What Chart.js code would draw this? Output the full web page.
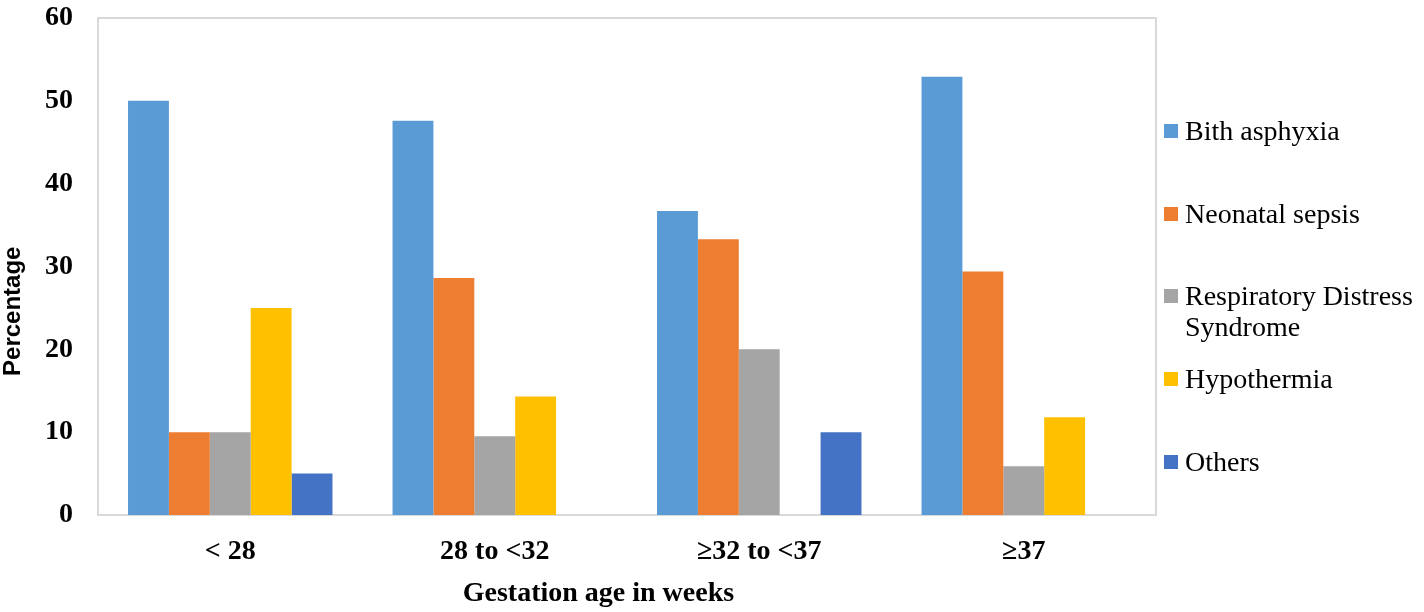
<!DOCTYPE html>
<html>
<head>
<meta charset="utf-8">
<script src="https://cdn.jsdelivr.net/npm/chart.js@4"></script>
<style>
    html, body { margin: 0; padding: 0; background: #fff; }
    #wrap { position: relative; width: 1424px; height: 612px; }
    #legend { position: absolute; left: 1164px; top: 115px; font-family: "Liberation Serif", "Times New Roman", serif; font-size: 28px; color: #000; }
    .item { position: relative; height: 82.7px; width: 260px; }
    .box { position: absolute; left: 0; top: 9px; width: 14px; height: 14px; }
    .txt { position: absolute; left: 21px; top: 0; line-height: 31px; width: 240px; }
</style>
</head>
<body>
<div id="wrap">
    <canvas id="chart" width="1424" height="612"></canvas>
    <div id="legend"></div>
</div>
<script>
// Gestational age groups
const categories = ["< 28", "28 to <32", "\u226532 to <37", "\u226537"];

// Percentage per cause of death
const birthAsphyxia = [50, 47.6, 36.7, 52.9];
const neonatalSepsis = [10, 28.6, 33.3, 29.4];
const respiratoryDistress = [10, 9.5, 20, 5.9];
const hypothermia = [25, 14.3, 0, 11.8];
const others = [5, 0, 10, 0];

const seriesNames = ["Bith asphyxia", "Neonatal sepsis", "Respiratory Distress Syndrome", "Hypothermia", "Others"];
const seriesColors = ["#5B9BD5", "#ED7D31", "#A5A5A5", "#FFC000", "#4472C4"];
const yTicks = [0, 10, 20, 30, 40, 50, 60];

const serif = "'Liberation Serif', 'Times New Roman', serif";

const plotBorder = {
    id: "plotBorder",
    beforeDatasetsDraw(chart) {
        const { ctx, chartArea: a } = chart;
        ctx.save();
        ctx.strokeStyle = "#d9d9d9";
        ctx.lineWidth = 2;
        ctx.strokeRect(a.left, a.top, a.right - a.left, a.bottom - a.top);
        ctx.restore();
    }
};

// axis titles sit a little off-centre in the original, so draw them here
const axisTitles = {
    id: "axisTitles",
    afterDraw(chart) {
        const { ctx, chartArea: a } = chart;
        ctx.save();
        ctx.fillStyle = "#000";
        ctx.textAlign = "center";
        ctx.textBaseline = "middle";

        ctx.font = `bold 28px ${serif}`;
        ctx.fillText("Gestation age in weeks", a.left + (a.right - a.left) * 0.473, 594);

        ctx.translate(13, a.top + (a.bottom - a.top) * 0.59);
        ctx.rotate(-Math.PI / 2);
        ctx.font = "bold 24px 'Liberation Sans', Arial, sans-serif";
        ctx.fillText("Percentage", 0, 0);
        ctx.restore();
    }
};

const datasets = [birthAsphyxia, neonatalSepsis, respiratoryDistress, hypothermia, others].map((data, i) => ({
    label: seriesNames[i],
    data,
    backgroundColor: seriesColors[i],
    borderWidth: 0,
    categoryPercentage: 0.773,
    barPercentage: 1
}));

new Chart(document.getElementById("chart"), {
    type: "bar",
    data: { labels: categories, datasets },
    options: {
        responsive: false,
        animation: false,
        layout: { padding: { top: 18, right: 268, left: 0, bottom: 0 } },
        plugins: {
            legend: { display: false },
            tooltip: { enabled: false }
        },
        scales: {
            x: {
                grid: { display: false, drawTicks: false },
                border: { display: false },
                ticks: { color: "#000", padding: 20, font: { family: serif, size: 28, weight: "bold" } },
                afterFit: (scale) => { scale.height = 97; }
            },
            y: {
                min: 0,
                max: 60,
                grid: { display: false, drawTicks: false },
                border: { display: false },
                afterBuildTicks: (scale) => { scale.ticks = yTicks.map(v => ({ value: v })); },
                ticks: { color: "#000", padding: 25, font: { family: serif, size: 28, weight: "bold" } },
                afterFit: (scale) => {
                    scale.width = 98;
                    // tick padding otherwise pushes the plot top down
                    scale.paddingTop = 0;
                    scale.paddingBottom = 0;
                }
            }
        }
    },
    plugins: [plotBorder, axisTitles]
});

const legend = document.getElementById("legend");
seriesNames.forEach((name, i) => {
    const item = document.createElement("div");
    item.className = "item";
    item.innerHTML = `<span class="box" style="background:${seriesColors[i]}"></span><span class="txt">${name}</span>`;
    legend.appendChild(item);
});
</script>
</body>
</html>
